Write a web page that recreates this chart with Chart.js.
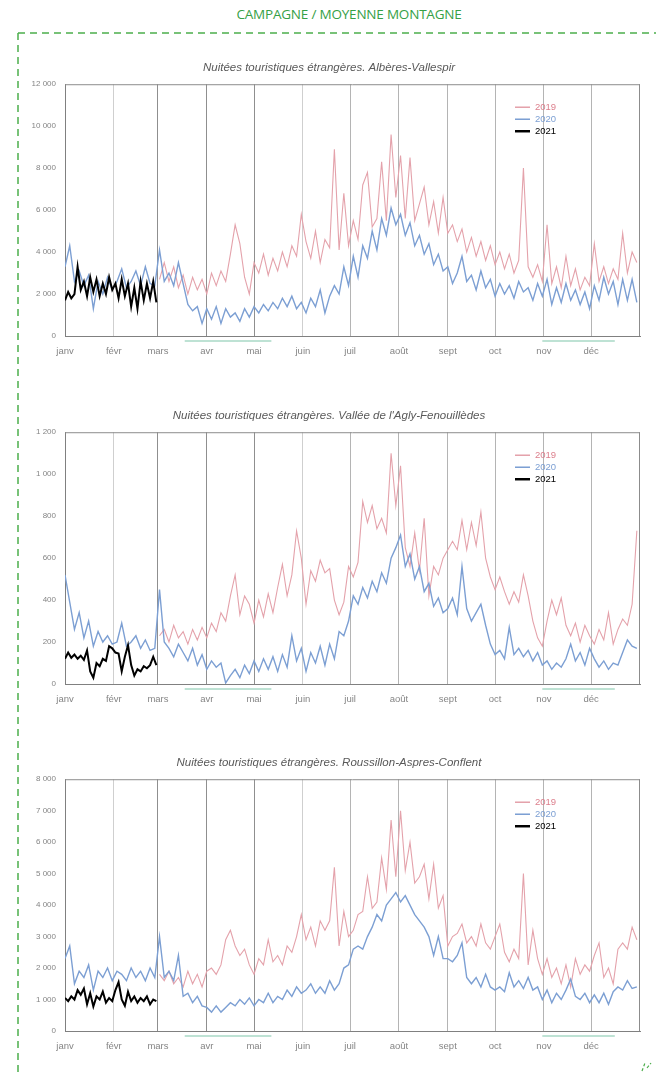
<!DOCTYPE html>
<html lang="fr">
<head>
<meta charset="utf-8">
<title>Campagne / moyenne montagne</title>
<script src="https://cdn.jsdelivr.net/npm/chart.js@4.4.1/dist/chart.umd.min.js"></script>
<style>
  html, body { margin:0; padding:0; background:#fff; }
  body { width:656px; height:1073px; position:relative; overflow:hidden; font-family:'Liberation Sans', Arial, sans-serif; }
  #page-title { position:absolute; top:5px; left:0; width:698px; text-align:center; font-family:'Open Sans', sans-serif; font-size:13.5px; color:#35a046; letter-spacing:-0.2px; }
  #deco { position:absolute; left:0; top:0; }
  .chart-box { position:absolute; left:18px; width:644px; height:309px; }
</style>
</head>
<body>

<div id="page-title">CAMPAGNE / MOYENNE MONTAGNE</div>

<svg id="deco" width="656" height="1073">
  <g stroke="#4cae4c" stroke-width="1.5" stroke-dasharray="7 5" fill="none">
    <line x1="18" y1="33" x2="656" y2="33"/>
    <line x1="18" y1="33" x2="18" y2="1073"/>
  </g>
  <g stroke="#4cae4c" stroke-width="1.2" stroke-dasharray="3 2" fill="none">
    <line x1="642" y1="1071" x2="645" y2="1063"/>
    <line x1="647" y1="1068" x2="651" y2="1063"/>
  </g>
</svg>

<div class="chart-box" style="top:57px"><canvas id="c-alberes" width="644" height="309"></canvas></div>
<div class="chart-box" style="top:405px"><canvas id="c-agly" width="644" height="309"></canvas></div>
<div class="chart-box" style="top:752px"><canvas id="c-roussillon" width="644" height="309"></canvas></div>

<script>
/* ============================================================
   DONNÉES — nuitées journalières (un point tous les 3 jours
   pour 2019/2020, tous les 2 jours pour 2021)
   ============================================================ */
const MONTHS      = ['janv','févr','mars','avr','mai','juin','juil','août','sept','oct','nov','déc'];
const MONTH_START = [0, 31, 59, 90, 120, 151, 181, 212, 243, 273, 304, 334];
const CONFINEMENTS = [[76, 131], [303, 349]];   // 17 mars-11 mai, 30 oct-15 déc
const STEP_YEAR  = 3;
const STEP_2021  = 2;
const START_2019 = 60;   // la série 2019 commence début mars

// Albères-Vallespir
const ALB_2019 = [
  2700,3500,2600,3300,2300,2900,2000,2800,2200,2700,
  2000,3000,2400,3100,2600,3900,5300,4400,2800,2000,
  3500,3000,3900,2900,3700,3100,4000,3300,4300,3800,
  5800,4500,3700,5000,3500,4600,4200,8900,4100,6800,
  4300,5500,4600,7200,7800,5200,5600,8300,5500,9600,
  6600,8600,5600,8500,5500,6300,7100,5300,6400,4900,
  6600,4900,5300,4500,5100,4000,4700,3800,4500,3600,
  4300,3400,4000,3200,3900,3000,3600,8000,3300,2800,
  3400,2600,5300,2500,3300,2300,3800,2400,3200,2200,
  2800,2400,4400,2600,3300,2500,3200,2700,4900,3000,
  4000,3500
];
const ALB_2020 = [
  3300,4300,2600,3100,2400,2900,1300,2600,2000,2800,
  2200,2600,3200,2300,2600,3100,2400,3300,2500,2400,
  4100,2600,3000,2400,3500,2500,1500,1200,1400,600,
  1300,800,1400,600,1300,900,1100,700,1300,900,
  1400,1100,1500,1200,1600,1300,1800,1400,1900,1300,
  1600,1100,1800,1400,2200,1100,1900,2400,2000,3300,
  2400,3800,2800,4300,3700,5000,4100,5600,4800,6100,
  5300,5800,4800,5400,4300,4800,3900,4400,3400,3900,
  3100,3300,2500,3000,3800,2600,2900,2200,3100,2300,
  2700,1900,2500,2000,2400,1800,2600,2100,2300,1700,
  2500,1900,2700,1500,2300,1600,2500,1700,2200,1500,
  2100,1300,2400,1700,2800,2000,2600,1500,2700,1700,
  2700,1600
];
const ALB_2021 = [
  1700,2100,1800,2000,3300,2200,2600,1900,2800,2100,
  2700,1900,2500,2000,2800,2200,2500,1800,2700,1900,
  2500,1400,2300,1300,2600,1700,2500,1800,2600,1600
];

// Vallée de l'Agly-Fenouillèdes
const AGLY_2019 = [
  230,260,200,280,220,250,190,260,210,270,
  220,290,250,340,300,420,520,330,420,380,
  290,400,320,430,340,460,570,420,520,730,
  600,380,540,490,590,530,550,400,330,390,
  560,510,580,870,770,850,740,790,720,1100,
  850,1040,650,560,720,540,790,420,560,520,
  600,640,680,640,780,640,770,660,820,600,
  510,450,510,440,380,440,390,520,420,300,
  220,180,300,400,330,410,280,230,290,200,
  280,230,190,260,210,340,190,260,310,280,
  380,730
];
const AGLY_2020 = [
  520,390,260,340,220,300,180,250,200,230,
  190,200,290,180,200,230,170,210,160,170,
  450,200,170,130,190,150,110,170,90,140,
  70,110,80,100,5,40,70,30,90,50,
  110,60,120,70,130,60,140,80,230,110,
  170,60,150,100,180,90,190,120,250,230,
  300,420,380,460,410,490,440,530,480,600,
  650,710,560,620,500,560,440,480,370,410,
  340,360,410,330,560,360,300,340,380,280,
  190,140,160,120,270,140,170,130,160,110,
  150,90,110,70,100,80,120,190,110,150,
  90,170,120,80,110,70,100,90,150,210,
  180,170
];
const AGLY_2021 = [
  120,150,125,140,120,135,115,160,60,30,
  100,85,120,110,180,170,150,145,60,130,
  185,90,40,70,60,85,75,90,130,90
];

// Roussillon-Aspres-Conflent
const ROUS_2019 = [
  1800,1600,1900,1500,1700,1400,1900,1500,1800,1400,
  1900,2000,1800,2100,2900,3200,2700,2400,2600,2100,
  1800,2300,2100,2900,2200,2400,2100,2700,2500,3000,
  3700,2900,3300,2700,3500,3200,3500,5200,2700,3800,
  3000,3200,3700,3800,4900,3900,4100,5500,4500,6700,
  4900,7000,5100,6000,4700,4900,5300,4200,5300,3900,
  4300,2700,3000,3100,3400,2800,3000,2700,3400,2800,
  2600,3000,3400,2500,2200,2600,2300,5000,2100,3200,
  2300,1800,2300,1700,2000,1500,2100,1400,2300,1800,
  2100,1900,2400,2800,1700,2000,1500,2600,2800,2600,
  3300,2900
];
const ROUS_2020 = [
  2300,2700,1500,1900,1700,2100,1300,1900,1700,2000,
  1600,1900,1800,1600,2000,1700,1900,1600,2000,1700,
  3000,1700,1900,1600,2400,1100,1200,900,1100,800,
  750,600,800,600,750,900,800,1000,850,1050,
  800,1000,900,1200,900,1100,1000,1300,1100,1400,
  1200,1300,1500,1200,1400,1200,1600,1300,1500,2000,
  2100,2600,2700,2600,3000,3300,3700,3500,4000,4200,
  4400,4100,4300,4000,3700,3500,3300,3000,2400,3000,
  2300,2300,2200,2400,2800,1700,1500,1700,1400,1800,
  1400,1300,1400,1250,1850,1400,1600,1350,1700,1300,
  1400,1000,1300,900,1200,1000,1300,1650,1100,1000,
  1200,900,1150,900,1200,850,1250,1400,1300,1600,
  1350,1400
];
const ROUS_2021 = [
  1050,950,1100,1000,1300,1150,1350,850,1200,780,
  1100,1000,1250,900,1050,950,1300,1550,1000,800,
  1250,950,1100,900,1050,950,1100,850,1000,950
];

/* ============================================================
   STYLES
   ============================================================ */
const C2019 = '#e4a2ab';
const C2020 = '#7c9fd3';
const C2021 = '#000000';
const GRID_COLORS = ['#808080','#cfcfcf','#8f8f8f','#8f8f8f','#8f8f8f','#cfcfcf',
                     '#b4b4b4','#b4b4b4','#b4b4b4','#b4b4b4','#b4b4b4','#b4b4b4'];
const TXT  = '#858585';
const FONT = '"Liberation Sans", Arial, sans-serif';

function fmtNb(v) { return String(v).replace(/\B(?=(\d{3})+(?!\d))/g, ' '); }
function toPoints(values, step, start) { return values.map((v, i) => ({ x: start + i * step, y: v })); }

/* ============================================================
   PLUGIN (cadre, légende, confinements)
   ============================================================ */
const cadrePlugin = {
  id: 'cadre',
  afterDraw(chart) {
    const { ctx, chartArea: a, scales } = chart;
    ctx.save();
    ctx.strokeStyle = '#8c8c8c';
    ctx.lineWidth = 1;
    ctx.beginPath();
    ctx.moveTo(a.left, a.top + 0.5); ctx.lineTo(a.right, a.top + 0.5);
    ctx.moveTo(a.right - 0.5, a.top); ctx.lineTo(a.right - 0.5, a.bottom);
    ctx.stroke();

    // traits verts sous l'axe : périodes de confinement
    ctx.strokeStyle = '#a9d8c6';
    ctx.lineWidth = 1.5;
    CONFINEMENTS.forEach(([d0, d1]) => {
      ctx.beginPath();
      ctx.moveTo(scales.x.getPixelForValue(d0), a.bottom + 5);
      ctx.lineTo(scales.x.getPixelForValue(d1), a.bottom + 5);
      ctx.stroke();
    });

    // légende
    const x0 = a.left + 450;
    const items = [['2019', C2019, 1.5, '#dc7f8c'], ['2020', C2020, 1.5, '#7c9fd3'], ['2021', C2021, 2.5, '#000']];
    ctx.font = '9.5px ' + FONT;
    ctx.textBaseline = 'middle';
    items.forEach(([lbl, col, w, txtCol], i) => {
      const y = a.top + 23 + i * 12;
      ctx.strokeStyle = col; ctx.lineWidth = w;
      ctx.beginPath(); ctx.moveTo(x0, y); ctx.lineTo(x0 + 15, y); ctx.stroke();
      ctx.fillStyle = txtCol;
      ctx.fillText(lbl, x0 + 20, y);
    });
    ctx.restore();
  }
};

/* ============================================================
   GRAPHIQUE
   ============================================================ */
function renderGraphique(id, titre, yMax, yStep, s2019, s2020, s2021) {
  const ctx = document.getElementById(id);
  return new Chart(ctx, {
    type: 'line',
    data: {
      datasets: [
        { label: '2021', data: toPoints(s2021, STEP_2021, 0), borderColor: C2021, borderWidth: 2, order: 0 },
        { label: '2020', data: toPoints(s2020, STEP_YEAR, 0), borderColor: C2020, borderWidth: 1.4, order: 1 },
        { label: '2019', data: toPoints(s2019, STEP_YEAR, START_2019), borderColor: C2019, borderWidth: 1.1, order: 2 },
      ]
    },
    options: {
      responsive: false,
      animation: false,
      layout: { padding: { top: 0, left: 0, right: 22, bottom: 0 } },
      elements: { point: { radius: 0 }, line: { tension: 0 } },
      plugins: {
        legend: { display: false },
        tooltip: { enabled: false },
        title: {
          display: true, text: titre, color: '#595959',
          font: { family: FONT, size: 11.5, style: 'italic', weight: 'normal', lineHeight: 1.15 },
          padding: { top: 4, bottom: 10 }
        }
      },
      scales: {
        x: {
          type: 'linear', min: 0, max: 365,
          afterBuildTicks: s => { s.ticks = MONTH_START.map(v => ({ value: v })); },
          afterFit: s => { s.height = 30; },
          ticks: {
            autoSkip: false, maxRotation: 0, padding: 10, color: TXT,
            font: { family: FONT, size: 9.5 },
            callback: (v, i) => MONTHS[i]
          },
          grid: { drawTicks: false, color: c => GRID_COLORS[c.index] || '#b4b4b4' },
          border: { color: '#808080' }
        },
        y: {
          min: 0, max: yMax,
          afterFit: s => { s.width = 47; },
          ticks: {
            stepSize: yStep, padding: 9, color: TXT,
            font: { family: FONT, size: 8 },
            callback: v => fmtNb(v)
          },
          grid: { display: false, drawTicks: false },
          border: { color: '#808080' }
        }
      }
    },
    plugins: [cadrePlugin]
  });
}

renderGraphique('c-alberes', 'Nuitées touristiques étrangères. Albères-Vallespir', 12000, 2000, ALB_2019, ALB_2020, ALB_2021);
renderGraphique('c-agly', "Nuitées touristiques étrangères. Vallée de l'Agly-Fenouillèdes", 1200, 200, AGLY_2019, AGLY_2020, AGLY_2021);
renderGraphique('c-roussillon', 'Nuitées touristiques étrangères. Roussillon-Aspres-Conflent', 8000, 1000, ROUS_2019, ROUS_2020, ROUS_2021);
</script>
</body>
</html>
